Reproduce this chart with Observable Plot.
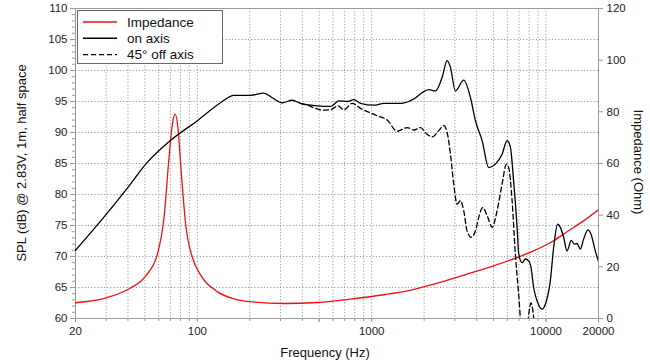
<!DOCTYPE html>
<html>
<head>
<meta charset="utf-8">
<script src="https://cdn.jsdelivr.net/npm/d3@7"></script>
<script src="https://cdn.jsdelivr.net/npm/@observablehq/plot@0.6"></script>
<style>
  html, body { margin: 0; padding: 0; background: #fff; }
  #wrap { position: relative; width: 650px; height: 364px; font-family: "Liberation Sans", Arial, Helvetica, sans-serif; color: #111; }
  .lab { position: absolute; font-size: 13px; white-space: nowrap; }
  #legend { position: absolute; left: 77px; top: 10px; width: 146px; height: 54px; border: 1.5px solid #666; background: #fff; box-sizing: border-box; }
</style>
</head>
<body>
<div id="wrap"></div>
<script>
// Tick labels
const xTickLabels = [20, 100, 500, 1000, 10000, 20000];
const splTicks = [60, 65, 70, 75, 80, 85, 90, 95, 100, 105, 110];
const ohmTicks = [0, 20, 40, 60, 80, 100, 120];

// On axis SPL (dB)
const onFreq = [20, 30, 40.6, 50.6, 70, 100, 136, 162, 202, 241, 269, 307, 350, 391, 487, 581, 648, 724, 790, 863, 1028, 1174, 1463, 1743, 1990, 2126, 2322, 2536, 2709, 2830, 3021, 3372, 3685, 3936, 4300, 4690, 5125, 5600, 5978, 6248, 6525, 6826, 6968, 7288, 7613, 7951, 8208, 8491, 8883, 9489, 9912, 10587, 11058, 11662, 12084, 12619, 13199, 13966, 14531, 15060, 15730, 16428, 17413, 18118, 19170, 20000];
const onSPL  = [71, 76.8, 81.4, 84.9, 88.7, 91.9, 94.8, 96.0, 96.0, 96.35, 95.6, 94.8, 95.2, 94.7, 94.3, 94.2, 95.1, 95.0, 95.3, 94.7, 94.4, 94.7, 94.7, 95.4, 96.6, 96.9, 96.7, 98.9, 101.6, 100.5, 96.7, 98.45, 95.65, 91.9, 88.7, 84.35, 84.9, 86.5, 88.7, 87.6, 82, 74.7, 70.5, 69.0, 69.6, 69.3, 68.2, 65.0, 62.85, 61.5, 62.3, 66.1, 71.45, 75.2, 74.7, 73.1, 70.9, 72.6, 72.0, 72.1, 71.2, 72.8, 74.3, 73.6, 70.9, 69.2];

// 45° off axis SPL (dB)
const offFreq = [391, 430, 476, 521, 581, 640, 692, 773, 863, 1076, 1228, 1400, 1599, 1743, 1906, 2080, 2222, 2425, 2590, 2709, 2830, 2955, 3091, 3228, 3372, 3526, 3717, 3936, 4110, 4335, 4593, 4905, 5240, 5600, 5924, 6108, 6389, 6670, 6968, 7300, 7700, 7951, 8208, 8491, 8800];
const offSPL  = [94.7, 94.4, 93.9, 93.6, 93.66, 94.3, 93.66, 94.7, 93.9, 92.7, 92.0, 90.2, 90.8, 90.4, 90.8, 89.7, 89.3, 90.3, 91.1, 90.0, 86.5, 81.7, 78.45, 79.0, 77.4, 74.1, 73.1, 74.1, 76.3, 77.9, 76.6, 74.7, 77.4, 81.7, 84.9, 84.35, 79.0, 70.4, 63.9, 57, 56, 60.5, 62.5, 60.2, 55];

// Impedance (Ohm)
const impFreq = [20, 30, 40.6, 50.6, 59, 64.4, 68.8, 71.9, 74.4, 77.4, 80.2, 85.7, 93.7, 104.5, 130, 162, 202, 313, 487, 756, 1174, 1599, 2271, 3526, 5011, 6826, 8491, 11058, 13199, 16428, 20000];
const impOhm  = [6.1, 8.0, 11.5, 16.5, 24.9, 39.1, 62.3, 75.2, 79.1, 73.9, 59.8, 36.5, 23.6, 16.8, 10.4, 7.6, 6.5, 5.8, 6.2, 7.5, 9.2, 10.7, 13.3, 17.2, 20.4, 23.6, 26.2, 30.1, 33.6, 37.8, 42.1];

// Build tables for Plot
const onData = onFreq.map((f, i) => ({f, v: onSPL[i]}));
const offData = offFreq.map((f, i) => ({f, v: offSPL[i]}));
const impData = impFreq.map((f, i) => ({f, z: impOhm[i]}));

// Impedance axis (0..120) shares the SPL scale (60..110)
const ohmToSpl = z => 60 + z * 50 / 120;
const splToOhm = s => Math.round((s - 60) * 120 / 50);

const xGrid = [];
for (const dec of [10, 100, 1000, 10000]) for (let m = 1; m <= 9; m++) { const v = dec * m; if (v >= 20 && v <= 20000) xGrid.push(v); }
xGrid.push(20000);

const gridStyle = {stroke: "#9a9a9a", strokeOpacity: 1, strokeDasharray: "1.2,2", strokeWidth: 1};

const chart = Plot.plot({
  width: 650,
  height: 364,
  marginLeft: 75,
  marginRight: 52,
  marginTop: 8,
  marginBottom: 46,
  style: {fontFamily: "'Liberation Sans', Arial, Helvetica, sans-serif", fontSize: "11px", color: "#222", background: "#fff"},
  x: {type: "log", domain: [20, 20000]},
  y: {domain: [60, 110]},
  marks: [
    Plot.gridX(xGrid, gridStyle),
    Plot.gridY(splTicks, gridStyle),
    Plot.frame({stroke: "#999", strokeWidth: 1}),
    Plot.axisX(xGrid, {tickSize: 3, tickFormat: () => "", label: null, stroke: "#999"}),
    Plot.axisX(xTickLabels, {tickSize: 4, tickPadding: 4, tickFormat: d => String(d), label: null, stroke: "#999", fontSize: 11.5}),
    Plot.axisY(d3.range(60, 111, 1), {anchor: "left", tickSize: 3, tickFormat: () => "", label: null, stroke: "#999"}),
    Plot.axisY(splTicks, {anchor: "left", tickSize: 5, tickPadding: 3, tickFormat: d => String(d), label: null, stroke: "#999", fontSize: 11.5}),
    Plot.axisY(ohmTicks.map(ohmToSpl), {anchor: "right", tickSize: 4, tickPadding: 4, tickFormat: splToOhm, label: null, stroke: "#999", fontSize: 11.5}),
    Plot.line(impData, {x: "f", y: d => ohmToSpl(d.z), stroke: "#ee1111", strokeWidth: 1.3, curve: "monotone-x", clip: true}),
    Plot.line(onData, {x: "f", y: "v", stroke: "#000", strokeWidth: 1.3, curve: "monotone-x", clip: true}),
    Plot.line(offData, {x: "f", y: "v", stroke: "#000", strokeWidth: 1.3, strokeDasharray: "5,3", curve: "monotone-x", clip: true})
  ]
});

const wrap = document.getElementById("wrap");
wrap.appendChild(chart);

function addLabel(text, x, y, rot) {
  const d = document.createElement("div");
  d.className = "lab";
  d.textContent = text;
  d.style.left = x + "px";
  d.style.top = y + "px";
  d.style.transform = "translate(-50%,-50%)" + (rot ? ` rotate(${rot}deg)` : "");
  wrap.appendChild(d);
}
addLabel("Frequency (Hz)", 325, 352, 0);
addLabel("SPL (dB) @ 2.83V, 1m, half space", 21, 163, -90);
addLabel("Impedance (Ohm)", 638, 162, 90);

// Legend
const leg = document.createElement("div");
leg.id = "legend";
const entries = [
  {name: "Impedance", color: "#ee1111", dash: null},
  {name: "on axis", color: "#000", dash: null},
  {name: "45° off axis", color: "#000", dash: "5,3"}
];
let html = '<svg width="146" height="54" style="position:absolute;left:0;top:0">';
entries.forEach((e, i) => {
  const y = 11 + i * 16.3;
  html += `<line x1="5" x2="39" y1="${y}" y2="${y}" stroke="${e.color}" stroke-width="1.4"${e.dash ? ` stroke-dasharray="${e.dash}"` : ""}/>`;
  html += `<text x="49" y="${y + 4.8}" font-size="13.5" font-family="'Liberation Sans', Arial, sans-serif" fill="#111">${e.name}</text>`;
});
html += "</svg>";
leg.innerHTML = html;
wrap.appendChild(leg);
</script>
</body>
</html>
